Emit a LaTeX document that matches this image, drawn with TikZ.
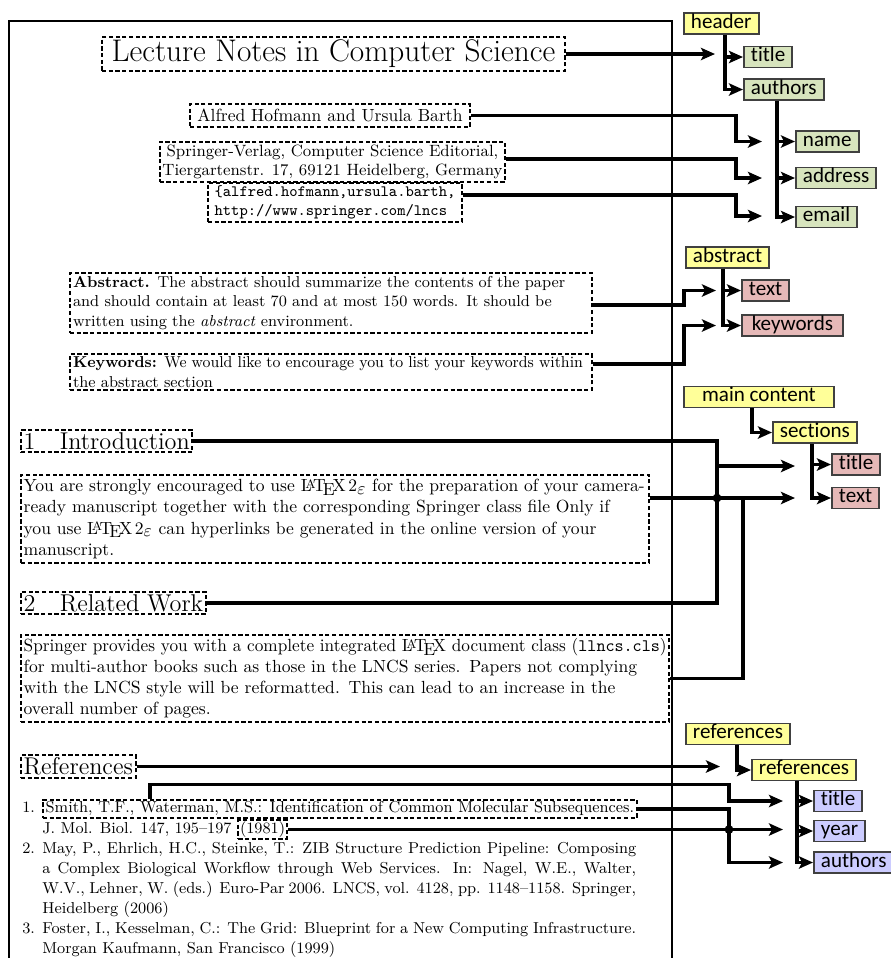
\documentclass[tikz,border=0pt]{standalone}
\usepackage{fontspec}
\newfontfamily\tagfont[Ligatures=NoCommon]{Carlito}
\usetikzlibrary{arrows.meta,positioning,calc}
\definecolor{tagyellow}{HTML}{FFFF99}
\definecolor{taggreen}{HTML}{D7E4BD}
\definecolor{tagpink}{HTML}{E6B9B8}
\definecolor{tagblue}{HTML}{CCCCFF}
\newcommand{\jl}[2]{\makebox[#1][s]{#2}}
\newcommand{\jr}[2]{\resizebox{#1}{\height}{#2}}
\tikzset{
  dbox/.style={draw, line width=1.2pt, dash pattern=on 2.4pt off 1.4pt, inner sep=1.5pt},
  tagbox/.style={draw=black!75, line width=1.1pt, anchor=west, minimum height=0.42cm,
    inner xsep=4pt, inner ysep=0pt, text height=8pt, text depth=2.5pt,
    font=\tagfont\fontsize{12}{12}\selectfont},
  ytag/.style={tagbox, fill=tagyellow},
  gtag/.style={tagbox, fill=taggreen},
  ptag/.style={tagbox, fill=tagpink},
  btag/.style={tagbox, fill=tagblue},
  conn/.style={line width=1.8pt, -{Stealth[length=8pt,width=7pt,inset=1.8pt]}},
  wire/.style={line width=1.8pt},
  joint/.style={circle, fill, inner sep=0pt, minimum size=5pt},
  refline/.style={anchor=west, inner sep=0pt, font=\fontsize{9}{11}\selectfont,
    text height=6.5pt, text depth=2pt}
}

\begin{document}
\begin{tikzpicture}[x=0.02cm,y=-0.02cm]
\useasboundingbox (0,0) rectangle (891,958);
% the page
\draw[line width=0.7pt] (9,958) -- (9,21) -- (672,21) -- (672,958);

% front matter
\node[dbox, minimum width=9.26cm, minimum height=0.56cm, font=\fontsize{17.8}{20}\selectfont] (lnTitle) at (333.5,54) {Lecture Notes in Computer Science};
\node[dbox, minimum width=5.6cm, minimum height=0.46cm] (authorsBox) at (330,115.5) {Alfred Hofmann and Ursula Barth};
\node[dbox, minimum width=6.9cm, minimum height=0.8cm, align=center, font=\fontsize{9.3}{11}\selectfont] (addrBox) at (332.5,162) {Springer-Verlag, Computer Science Editorial,\\Tiergartenstr. 17, 69121 Heidelberg, Germany};
\node[dbox, minimum width=5.08cm, minimum height=0.66cm, align=left, font=\ttfamily\fontsize{9}{10.5}\selectfont] (mailBox) at (335,202.5) {\{alfred.hofmann,ursula.barth,\\http://www.springer.com/lncs};

% abstract
\node[dbox, minimum width=10.44cm, minimum height=1.2cm, text width=10.32cm, align=left, font=\fontsize{9}{11}\selectfont] (absBox) at (331,303) {\jl{10.32cm}{\textbf{Abstract.} The abstract should summarize the contents of the paper}\\
\jl{10.32cm}{and should contain at least 70 and at most 150 words. It should be}\\
written using the \emph{abstract} environment.};
\node[dbox, minimum width=10.44cm, minimum height=0.72cm, text width=10.32cm, align=left, font=\fontsize{9}{11}\selectfont] (kwBox) at (331,372) {\jr{10.2cm}{\textbf{Keywords:} We would like to encourage you to list your keywords within}\\
the abstract section};

% sections
\node[dbox, anchor=west, font=\fontsize{13.8}{15}\selectfont] (introHead) at (20,441) {1\hspace{1em}Introduction};
\node[dbox, anchor=west, minimum height=1.76cm, text width=12.46cm, align=left, font=\fontsize{10}{12}\selectfont] (introBox) at (20,519) {\jl{12.46cm}{You are strongly encouraged to use \LaTeXe\ for the preparation of your camera-}\\
\jl{12.46cm}{ready manuscript together with the corresponding Springer class file Only if}\\
\jl{12.46cm}{you use \LaTeXe\ can hyperlinks be generated in the online version of your}\\
manuscript.};
\node[dbox, anchor=west, font=\fontsize{13.8}{15}\selectfont] (relHead) at (20,603) {2\hspace{1em}Related Work};
\node[dbox, anchor=west, minimum height=1.74cm, text width=12.86cm, align=left, font=\fontsize{10}{12}\selectfont] (sprBox) at (20,678.5) {\jr{12.86cm}{Springer provides you with a complete integrated \LaTeX\ document class (\texttt{llncs.cls})}\\
\jl{12.3cm}{for multi-author books such as those in the LNCS series. Papers not complying}\\
\jl{12.3cm}{with the LNCS style will be reformatted. This can lead to an increase in the}\\
overall number of pages.};

% references
\node[dbox, anchor=west, font=\fontsize{13.8}{15}\selectfont] (refsHead) at (20,766.5) {References};
\node[refline] (num1) at (22,809) {1.};
\node[refline, dbox, inner xsep=1.5pt, inner ysep=1pt] (refA) at (42,809) {\jl{11.77cm}{Smith, T.F., Waterman, M.S.: Identification of Common Molecular Subsequences.}};
\node[refline] (refA2) at (42,829.5) {J. Mol. Biol. 147, 195--197};
\node[refline, dbox, inner sep=1pt, right=3pt of refA2] (yearBox) {(1981)};
\node[refline] (num2) at (22,850) {2.};
\node[refline] (refB1) at (42,850) {\jl{11.88cm}{May, P., Ehrlich, H.C., Steinke, T.: ZIB Structure Prediction Pipeline: Composing}};
\node[refline] (refB2) at (42,870) {\jl{11.88cm}{a Complex Biological Workflow through Web Services. In: Nagel, W.E., Walter,}};
\node[refline] (refB3) at (42,890) {\jl{11.88cm}{W.V., Lehner, W. (eds.) Euro-Par 2006. LNCS, vol. 4128, pp. 1148--1158. Springer,}};
\node[refline] (refB4) at (42,910) {Heidelberg (2006)};
\node[refline] (num3) at (22,930) {3.};
\node[refline] (refC1) at (42,930) {\jl{11.88cm}{Foster, I., Kesselman, C.: The Grid: Blueprint for a New Computing Infrastructure.}};
\node[refline] (refC2) at (42,950) {Morgan Kaufmann, San Francisco (1999)};

% tags
\node[ytag] (header) at (683,23.5) {header};
\node[gtag] (hdTitle) at (743,57) {title};
\node[gtag] (hdAuthors) at (743,89.5) {authors};
\node[gtag] (auName) at (795,141.5) {name};
\node[gtag] (auAddr) at (795,178) {address};
\node[gtag] (auMail) at (795,217) {email};
\node[ytag] (absTag) at (685,257.5) {abstract};
\node[ptag] (abText) at (741,290.5) {text};
\node[ptag, minimum width=2.02cm] (abKey) at (741,325.5) {keywords};
\node[ytag, minimum width=3cm] (mainTag) at (683,397) {main content};
\node[ytag] (secTag) at (772,432.5) {sections};
\node[ptag] (secTitle) at (831,464.5) {title};
\node[ptag] (secText) at (831,498) {text};
\node[ytag] (refTag) at (685,734) {references};
\node[ytag] (refsTag) at (751,770) {references};
\node[btag] (rfTitle) at (813,801) {title};
\node[btag] (rfYear) at (813,831) {year};
\node[btag] (rfAuthors) at (813,862.5) {authors};

% tag trees
\draw[conn] ([xshift=0.84cm]header.south west) |- (hdTitle.west);
\draw[conn] ([xshift=0.84cm]header.south west) |- (hdAuthors.west);
\foreach \c in {auName,auAddr,auMail}
  \draw[conn] ([xshift=0.68cm]hdAuthors.south west) |- (\c.west);
\foreach \c in {abText,abKey}
  \draw[conn] ([xshift=0.76cm]absTag.south west) |- (\c.west);
\draw[conn] ([xshift=1.38cm]mainTag.south west) |- (secTag.west);
\foreach \c in {secTitle,secText}
  \draw[conn] ([xshift=0.8cm]secTag.south west) |- (\c.west);
\draw[conn] ([xshift=1.04cm]refTag.south west) |- (refsTag.west);
\foreach \c in {rfTitle,rfYear,rfAuthors}
  \draw[conn] ([xshift=0.92cm]refsTag.south west) |- (\c.west);

% page -> tags
\coordinate (inTitle) at (715,54);
\coordinate (inName) at (762,141.5);
\coordinate (inAddr) at (762,178);
\coordinate (inMail) at (762,216);
\draw[conn] (lnTitle.east) -- (inTitle);
\draw[conn] (authorsBox.east) -| ([xshift=-0.52cm]inName) -- (inName);
\draw[conn] ([yshift=0.06cm]addrBox.east) -| ([xshift=-0.52cm]inAddr) -- (inAddr);
\draw[conn] ([yshift=0.15cm]mailBox.east) -| ([xshift=-0.52cm]inMail) -- (inMail);

\coordinate (inAbsText) at (716,290.5);
\coordinate (inAbsKey) at (716,325.5);
\draw[conn] ([yshift=-0.04cm]absBox.east) -| ([xshift=-0.64cm]inAbsText) -- (inAbsText);
\draw[conn] ([yshift=0.16cm]kwBox.east) -| ([xshift=-0.64cm]inAbsKey) -- (inAbsKey);

\coordinate (inSecTitle) at (795,466);
\coordinate (inSecText) at (795,498);
\coordinate (busLow) at (717,603);
\coordinate (sprUp) at (743,498);
\draw[wire] (introHead.east) -| (busLow) -- (relHead.east);
\draw[conn] (inSecTitle -| busLow) -- (inSecTitle);
\draw[conn] (introBox.east |- inSecText) -- (inSecText);
\draw[wire] (sprBox.east) -| (sprUp);
\node[joint] (dotSec) at (busLow |- inSecText) {};

\coordinate (inRefs) at (720,767);
\coordinate (inRfTitle) at (783,801);
\coordinate (inRfYear) at (783,831);
\coordinate (inRfAuth) at (783,862.5);
\coordinate (refBus) at (729,831);
\draw[conn] (refsHead.east) -- (refsHead.east -| inRefs);
\draw[conn] ([xshift=2.16cm]refA.north west) -- ++(0,-14) -| (refBus |- inRfTitle) -- (inRfTitle);
\draw[conn] (yearBox.east) -- (yearBox.east -| inRfYear);
\draw[conn] (refA.east) -| (refBus |- inRfAuth) -- (inRfAuth);
\node[joint] (dotRef) at (refBus |- yearBox.east) {};
\end{tikzpicture}
\end{document}
